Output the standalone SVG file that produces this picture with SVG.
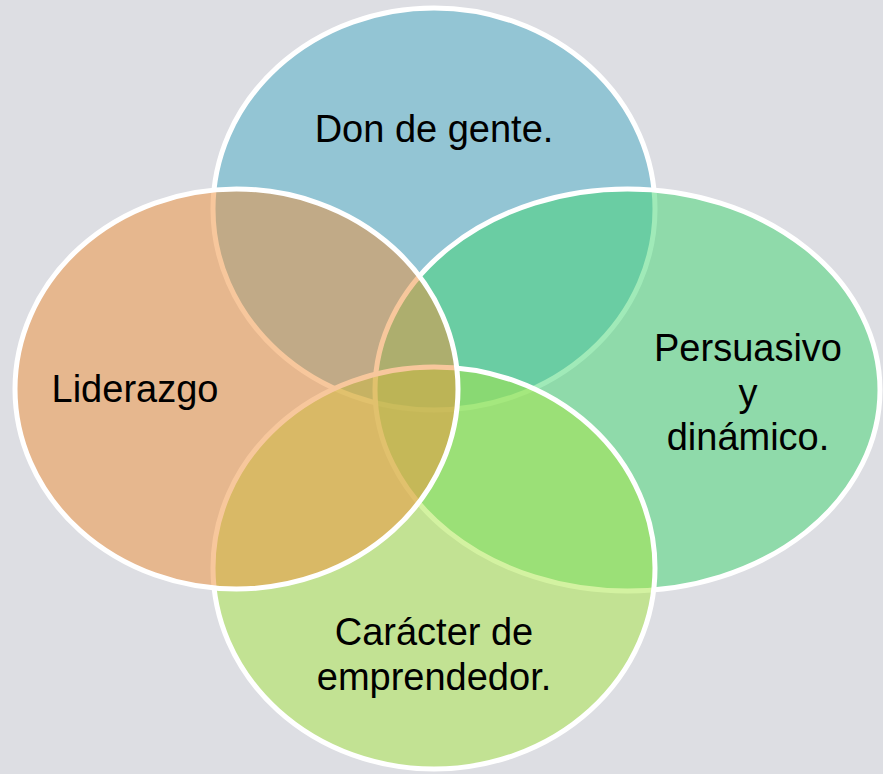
<svg xmlns="http://www.w3.org/2000/svg" width="883" height="774" viewBox="0 0 883 774">
  <style>
    .c { stroke: #ffffff; stroke-width: 5; fill-opacity: 0.5; }
    .t { font-family: "Liberation Sans", Arial, sans-serif; font-size: 38px; fill: #000000; text-anchor: middle; }
  </style>
  <rect x="0" y="0" width="883" height="774" fill="#dddee3"/>
  <g id="don-de-gente">
    <ellipse class="c" cx="434" cy="209" rx="221" ry="201" fill="#4aabc6"/>
  </g>
  <g id="persuasivo">
    <ellipse class="c" cx="627.5" cy="390" rx="252.5" ry="201" fill="#42d572"/>
  </g>
  <g id="emprendedor">
    <ellipse class="c" cx="434" cy="568" rx="221" ry="201" fill="#a8e544"/>
  </g>
  <g id="liderazgo">
    <ellipse class="c" cx="236.5" cy="389" rx="221.5" ry="200" fill="#f08f3a"/>
  </g>
  <g id="labels">
    <text class="t" x="434" y="142">Don de gente.</text>
    <text class="t" x="135" y="402">Liderazgo</text>
    <text class="t" x="748" y="361">Persuasivo</text>
    <text class="t" x="748" y="406">y</text>
    <text class="t" x="748" y="450">dinámico.</text>
    <text class="t" x="434" y="645">Carácter de</text>
    <text class="t" x="434" y="690">emprendedor.</text>
  </g>
</svg>
